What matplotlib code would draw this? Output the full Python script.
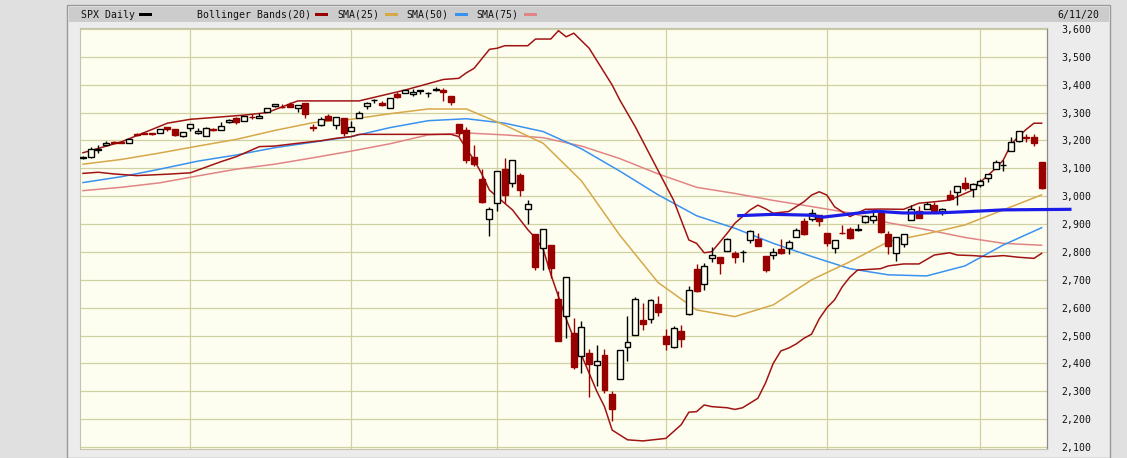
import numpy as np
import pandas as pd
import matplotlib
matplotlib.use("Agg")
import matplotlib.pyplot as plt
from matplotlib.patches import Rectangle
from matplotlib.ticker import FuncFormatter

# ---------------- data ----------------
holidays = ["2019-12-25", "2020-01-01", "2020-01-20", "2020-02-17", "2020-04-10", "2020-05-25"]
dates = pd.bdate_range("2019-12-11", "2020-06-11")
dates = dates[~dates.isin(pd.to_datetime(holidays))]

opens = [3135.75, 3141.23, 3166.65, 3183.63, 3195.40, 3195.21, 3192.32, 3223.33, 3226.05, 3225.45,
         3227.20, 3247.23, 3240.09, 3215.18, 3244.67, 3226.36, 3217.55, 3241.86, 3238.59, 3266.03,
         3281.81, 3271.13, 3285.35, 3282.27, 3302.97, 3323.66, 3321.03, 3330.02, 3315.77, 3333.10,
         3247.16, 3255.35, 3289.46, 3256.45, 3282.33, 3235.66, 3280.61, 3324.91, 3344.92, 3335.54,
         3318.28, 3365.87, 3370.50, 3365.90, 3378.08, 3369.04, 3380.39, 3380.45, 3360.50, 3257.61,
         3238.94, 3139.90, 3062.54, 2916.90, 2974.28, 3096.46, 3045.75, 3075.70, 2954.20, 2863.89,
         2813.48, 2825.60, 2630.86, 2569.99, 2508.59, 2425.66, 2436.50, 2393.48, 2431.94, 2290.71,
         2344.44, 2457.77, 2501.29, 2555.87, 2558.98, 2614.69, 2498.08, 2458.54, 2514.92, 2578.28,
         2738.65, 2685.00, 2776.99, 2782.46, 2805.10, 2795.64, 2799.34, 2842.43, 2845.62, 2784.81,
         2787.89, 2810.42, 2812.64, 2854.65, 2909.96, 2918.46, 2930.91, 2869.09, 2815.01, 2868.88,
         2883.14, 2878.26, 2908.83, 2915.46, 2939.50, 2865.86, 2794.54, 2829.95, 2913.86, 2948.59,
         2953.63, 2969.95, 2948.05, 3004.08, 3015.65, 3046.61, 3025.17, 3038.78, 3064.78, 3098.90,
         3111.56, 3163.84, 3199.92, 3213.32, 3213.42, 3123.53]
highs = [3143.98, 3176.28, 3182.68, 3197.71, 3198.22, 3198.48, 3205.48, 3225.65, 3227.78, 3226.43,
         3240.08, 3247.93, 3240.92, 3231.72, 3258.14, 3246.15, 3246.84, 3244.91, 3267.07, 3275.58,
         3282.99, 3288.13, 3294.25, 3298.66, 3317.11, 3329.88, 3329.79, 3337.77, 3326.88, 3333.18,
         3258.85, 3285.78, 3293.47, 3285.91, 3282.33, 3268.44, 3306.92, 3337.58, 3347.96, 3341.42,
         3352.26, 3375.63, 3381.47, 3385.09, 3380.69, 3375.01, 3393.52, 3389.15, 3360.76, 3259.81,
         3246.99, 3182.51, 3097.07, 2959.72, 3090.96, 3136.72, 3130.97, 3083.04, 2985.93, 2863.89,
         2882.59, 2825.60, 2660.95, 2711.33, 2562.98, 2553.93, 2453.57, 2466.97, 2453.01, 2300.73,
         2449.71, 2571.42, 2637.01, 2615.91, 2631.80, 2641.39, 2522.75, 2533.22, 2538.18, 2676.85,
         2756.89, 2760.75, 2818.57, 2782.46, 2851.85, 2801.88, 2806.51, 2879.22, 2868.98, 2785.54,
         2815.10, 2844.90, 2842.71, 2887.72, 2921.15, 2954.86, 2930.91, 2869.09, 2844.24, 2898.23,
         2891.11, 2901.92, 2932.16, 2944.25, 2945.82, 2874.14, 2852.80, 2865.01, 2968.09, 2964.21,
         2980.29, 2978.50, 2956.76, 3021.72, 3036.25, 3068.67, 3049.17, 3062.18, 3081.07, 3130.94,
         3128.91, 3211.72, 3233.13, 3222.71, 3223.27, 3124.00]
lows = [3133.21, 3138.47, 3156.51, 3183.63, 3191.03, 3191.14, 3192.32, 3216.03, 3222.30, 3220.51,
        3227.20, 3234.37, 3216.57, 3212.03, 3235.53, 3222.34, 3214.64, 3232.43, 3236.67, 3263.67,
        3260.86, 3268.43, 3277.19, 3280.69, 3302.82, 3318.86, 3316.61, 3320.04, 3301.87, 3281.53,
        3234.50, 3253.22, 3271.89, 3242.80, 3214.68, 3235.66, 3280.61, 3313.75, 3334.39, 3322.12,
        3317.77, 3352.72, 3369.72, 3360.52, 3366.15, 3355.61, 3378.83, 3341.02, 3328.45, 3214.65,
        3118.77, 3108.99, 2977.39, 2855.84, 2945.19, 2976.63, 3034.38, 2999.83, 2901.54, 2734.43,
        2734.00, 2707.22, 2478.86, 2492.37, 2380.94, 2367.04, 2280.52, 2319.78, 2295.56, 2191.86,
        2344.44, 2407.53, 2500.72, 2520.02, 2545.28, 2571.15, 2447.49, 2455.79, 2459.96, 2574.57,
        2657.67, 2663.30, 2762.36, 2721.17, 2805.10, 2761.54, 2764.32, 2830.88, 2820.43, 2727.10,
        2775.95, 2794.26, 2791.76, 2852.89, 2860.71, 2912.16, 2892.47, 2821.61, 2797.85, 2863.55,
        2847.65, 2876.48, 2902.88, 2903.44, 2869.59, 2793.15, 2766.64, 2816.78, 2913.86, 2922.35,
        2953.63, 2938.57, 2933.59, 2988.17, 2969.75, 3023.40, 2998.61, 3031.54, 3051.64, 3098.90,
        3090.41, 3163.84, 3196.00, 3193.11, 3181.49, 3025.00]
closes = [3141.63, 3168.57, 3168.80, 3191.45, 3192.52, 3191.14, 3205.37, 3221.22, 3224.01, 3223.38,
          3239.91, 3240.02, 3221.29, 3230.78, 3257.85, 3234.85, 3246.28, 3237.18, 3253.05, 3274.70,
          3265.35, 3288.13, 3283.15, 3289.29, 3316.81, 3329.62, 3320.79, 3321.75, 3325.54, 3295.47,
          3243.63, 3276.24, 3273.40, 3283.66, 3225.52, 3248.92, 3297.59, 3334.69, 3345.78, 3327.71,
          3352.09, 3357.75, 3379.45, 3373.94, 3380.16, 3370.29, 3386.15, 3373.23, 3337.75, 3225.89,
          3128.21, 3116.39, 2978.76, 2954.22, 3090.23, 3003.37, 3130.12, 3023.94, 2972.37, 2746.56,
          2882.23, 2741.38, 2480.64, 2711.02, 2386.13, 2529.19, 2398.10, 2409.39, 2304.92, 2237.40,
          2447.33, 2475.56, 2630.07, 2541.47, 2626.65, 2584.59, 2470.50, 2526.90, 2488.65, 2663.68,
          2659.41, 2749.98, 2789.82, 2761.63, 2846.06, 2783.36, 2799.55, 2874.56, 2823.16, 2736.56,
          2799.31, 2797.80, 2836.74, 2878.48, 2863.39, 2939.51, 2912.43, 2830.71, 2842.74, 2868.44,
          2848.42, 2881.19, 2929.80, 2930.32, 2870.12, 2820.00, 2852.50, 2863.70, 2953.91, 2922.94,
          2971.61, 2948.51, 2955.45, 2991.77, 3036.13, 3029.73, 3044.31, 3055.73, 3080.82, 3122.87,
          3112.35, 3193.93, 3232.39, 3207.18, 3190.14, 3030.00]

# Bollinger Bands(20): readings at the sessions where the band visibly changes direction
bb_up_days = [0, 5, 11, 14, 21, 24, 28, 36, 42, 47, 49, 50, 51, 53, 54, 55, 58, 59, 61, 62,
              63, 64, 66, 69, 70, 72, 77, 79, 80, 81, 82, 84, 85, 87, 88, 89, 90, 92, 94, 95,
              96, 97, 98, 100, 102, 104, 107, 109, 111, 113, 116, 117, 118, 119, 120, 121, 122,
              123, 124, 125]
bb_upper = [3156, 3195, 3262, 3276, 3291, 3300, 3342, 3342, 3381, 3419, 3423, 3443, 3459, 3527,
            3531, 3540, 3540, 3564, 3564, 3594, 3572, 3585, 3531, 3399, 3345, 3250, 2986, 2843,
            2831, 2797, 2801, 2867, 2903, 2951, 2968, 2955, 2939, 2945, 2980, 3004, 3016, 3004,
            2962, 2927, 2953, 2954, 2953, 2975, 2980, 2986, 3022, 3050, 3075, 3100, 3130, 3185,
            3215, 3240, 3262, 3262]
bb_lo_days = [0, 2, 4, 7, 11, 14, 16, 18, 20, 23, 25, 28, 31, 33, 35, 36, 48, 49, 50, 51, 52,
              53, 54, 56, 58, 59, 60, 61, 62, 63, 64, 65, 66, 67, 68, 69, 71, 73, 75, 76, 78,
              79, 80, 81, 82, 84, 85, 86, 88, 89, 90, 91, 92, 93, 94, 95, 96, 97, 98, 99, 100,
              101, 104, 105, 107, 109, 111, 113, 114, 116, 118, 120, 122, 124, 125]
bb_lower = [3082, 3086, 3080, 3074, 3079, 3084, 3104, 3124, 3142, 3178, 3180, 3190, 3199, 3208,
            3214, 3222, 3222, 3214, 3170, 3130, 3080, 3022, 2998, 2951, 2880, 2850, 2810, 2720,
            2640, 2560, 2490, 2430, 2365, 2300, 2245, 2161, 2126, 2122, 2128, 2131, 2180, 2225,
            2227, 2251, 2245, 2241, 2235, 2241, 2275, 2330, 2400, 2445, 2455, 2470, 2490, 2505,
            2560, 2600, 2628, 2675, 2710, 2735, 2740, 2750, 2757, 2757, 2789, 2797, 2789, 2787,
            2783, 2787, 2781, 2777, 2795]

# moving averages, one reading every 5 sessions (session 0, 5, 10, ... 125)
ma_step = 5
sma25 = [3115, 3132, 3155, 3180, 3204, 3236, 3264, 3276, 3296, 3313, 3313, 3255, 3190,
         3055, 2860, 2690, 2592, 2568, 2610, 2700, 2765, 2837, 2865, 2897, 2951, 3005]
sma50 = [3049, 3070, 3097, 3126, 3148, 3174, 3194, 3214, 3246, 3271, 3278, 3262, 3232,
         3170, 3090, 3005, 2930, 2885, 2831, 2784, 2740, 2718, 2714, 2750, 2825, 2887]
sma75 = [3020, 3032, 3048, 3073, 3097, 3115, 3138, 3162, 3188, 3220, 3227, 3220, 3210,
         3180, 3135, 3080, 3032, 3010, 2985, 2963, 2940, 2905, 2880, 2852, 2831, 2824]

# hand-drawn blue line (session index, price)
trend_idx = [85.3, 90.0, 94.8, 96.5, 100.9, 103.5, 106.9, 111.3, 115.6, 120.0, 128.9]
trend_val = [2930, 2935, 2932, 2925, 2939, 2946, 2940, 2940, 2945, 2951, 2953]

y_ticks = list(range(2100, 3601, 100))
legend_labels = ["SPX Daily", "Bollinger Bands(20)", "SMA(25)", "SMA(50)", "SMA(75)"]
date_label = "6/11/20"

# ---------------- style ----------------
C_RED = "#990000"
C_BB = "#a01414"
C_SMA25 = "#d6a84a"
C_SMA50 = "#3a92f0"
C_SMA75 = "#e08585"
C_TREND = "#1c1ce8"
C_BG = "#fefef0"
C_GRID = "#d0d0a2"
MONO = "DejaVu Sans Mono"
FS = 7.1

W, H = 1127, 458
fig = plt.figure(figsize=(W / 100, H / 100), dpi=100)
fig.patch.set_facecolor("#e0e0e0")

def fy(py):
    return 1 - py / H

# panel and header band (behind the axes)
fig.add_artist(Rectangle((67 / W, 0), (1110 - 67) / W, fy(5), transform=fig.transFigure,
                         facecolor="#ececec", edgecolor="#9a9a9a", lw=1.0, zorder=-5))
fig.add_artist(Rectangle((68.5 / W, fy(22)), (1109 - 68.5) / W, (22 - 6.5) / H,
                         transform=fig.transFigure, facecolor="#cccccc", edgecolor="none",
                         zorder=-4))

ax = fig.add_axes([80 / W, fy(448.5), (1047 - 80) / W, (448.5 - 28) / H])
ax.set_zorder(2)
ax.set_facecolor(C_BG)
ax.set_xlim(-0.39, 125.7)
ax.set_ylim(2094.8, 3603.6)

# grid
ax.set_yticks(y_ticks)
ax.grid(axis="y", color=C_GRID, lw=0.9, zorder=0)
ax.set_axisbelow(True)
months = dates.to_period("M")
month_starts = [i for i in range(1, len(dates)) if months[i] != months[i - 1]]
for m in month_starts:
    ax.axvline(m, color=C_GRID, lw=0.9, zorder=0.5)
ax.set_xticks([])

ax.yaxis.tick_right()
ax.tick_params(axis="y", length=0, pad=10, labelsize=FS, labelcolor="#111111")
ax.yaxis.set_major_formatter(FuncFormatter(lambda v, p: f"{int(v):,}"))
for lab in ax.get_yticklabels():
    lab.set_family(MONO)

for s in ["top", "left", "bottom"]:
    ax.spines[s].set_color("#c4c4ae")
    ax.spines[s].set_linewidth(0.8)
ax.spines["right"].set_color("#8a8a8a")
ax.spines["right"].set_linewidth(0.9)

# indicators
ma_x = np.arange(0, len(closes), ma_step)
ax.plot(ma_x, sma75, color=C_SMA75, lw=1.1, zorder=2)
ax.plot(ma_x, sma50, color=C_SMA50, lw=1.1, zorder=2)
ax.plot(ma_x, sma25, color=C_SMA25, lw=1.1, zorder=2)
ax.plot(bb_up_days, bb_upper, color=C_BB, lw=1.1, zorder=2)
ax.plot(bb_lo_days, bb_lower, color=C_BB, lw=1.1, zorder=2)

# candles
o = np.array(opens); h = np.array(highs); l = np.array(lows); c = np.array(closes)
idx = np.arange(len(c))
up = c >= o
edge = np.where(up, "#000000", C_RED)
face = np.where(up, C_BG, C_RED)
ax.vlines(idx, l, h, colors=edge, lw=1.0, zorder=3)
ax.bar(idx, np.abs(c - o), bottom=np.minimum(o, c), width=0.78, color=face,
       edgecolor=edge, linewidth=1.0, zorder=4)

# hand-drawn line
ax.plot(trend_idx, trend_val, color=C_TREND, lw=2.3, zorder=5, clip_on=False,
        solid_capstyle="butt")

# header legend
text_x = [80.7, 196.7, 337.7, 406.7, 476.0]
swatch_x = [139, 315, 385, 455, 524]
swatch_c = ["#000000", C_RED, C_SMA25, C_SMA50, C_SMA75]
for lbl, tx, sx, col in zip(legend_labels, text_x, swatch_x, swatch_c):
    fig.text(tx / W, fy(14.6), lbl, ha="left", va="center", family=MONO, size=FS, color="#111111")
    fig.add_artist(Rectangle((sx / W, fy(16.2)), 13 / W, 3.2 / H, transform=fig.transFigure,
                             facecolor=col, edgecolor="none"))
fig.text(1099 / W, fy(14.6), date_label, ha="right", va="center", family=MONO, size=FS,
         color="#111111")

fig.savefig("out.png", dpi=100, facecolor=fig.get_facecolor())
